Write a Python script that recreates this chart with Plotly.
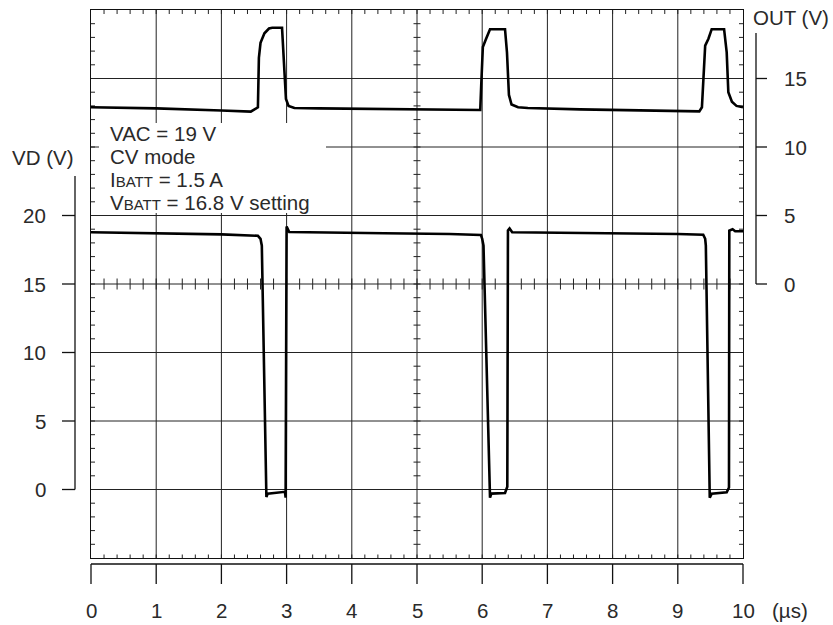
import plotly.graph_objects as go

# ---- waveform samples: time in microseconds, values in volts ----
t_out = [0.0, 1.0, 2.0, 2.45, 2.56, 2.575, 2.60, 2.66, 2.73, 2.78, 2.93,
         2.96, 2.99, 3.03, 3.12, 3.5, 4.5, 5.5, 5.97,
         5.985, 6.01, 6.06, 6.12, 6.35, 6.38, 6.41, 6.45, 6.55, 6.7, 7.5, 8.5, 9.33,
         9.37, 9.39, 9.42, 9.47, 9.52, 9.71, 9.75, 9.775, 9.83, 9.90, 10.0]
out_v = [12.9, 12.82, 12.66, 12.58, 12.9, 16.5, 17.6, 18.3, 18.65, 18.7, 18.7,
         16.0, 13.5, 13.0, 12.85, 12.82, 12.78, 12.72, 12.7,
         14.5, 17.3, 17.9, 18.6, 18.6, 16.9, 13.8, 13.1, 12.9, 12.85, 12.75, 12.68, 12.6,
         12.9, 15.0, 17.4, 17.9, 18.6, 18.6, 16.9, 14.0, 13.3, 13.0, 12.9]

t_vd = [0.0, 1.0, 2.0, 2.56, 2.60, 2.62, 2.69, 2.71, 2.975, 2.985, 2.995, 3.0, 3.04,
        3.5, 4.5, 5.5, 5.98, 6.0, 6.02, 6.12, 6.14, 6.35, 6.385, 6.395, 6.42, 6.46,
        7.0, 8.0, 9.0, 9.39, 9.42, 9.43, 9.49, 9.52, 9.75, 9.785, 9.79, 9.84, 9.88, 10.0]
vd_v = [18.78, 18.72, 18.62, 18.52, 18.3, 17.8, -0.55, -0.3, -0.17, -0.6, 18.5, 19.2, 18.8,
        18.76, 18.7, 18.65, 18.58, 18.3, 17.8, -0.6, -0.3, -0.25, 0.2, 18.9, 19.05, 18.78,
        18.76, 18.7, 18.65, 18.6, 18.3, 17.8, -0.6, -0.3, -0.2, 0.15, 18.9, 19.0, 18.85, 18.85]

# ---- axis ticks and labels ----
x_ticks = list(range(0, 11))
vd_ticks = [0, 5, 10, 15, 20]
out_ticks = [0, 5, 10, 15]
x_range = [0, 10]
vd_range = [-5, 35]
out_range = [-20, 20]

# ---- page geometry (pixels) ----
W, H = 833, 625
ML, MR, MT, MB = 91, 90, 10, 67
PW, PH = W - ML - MR, H - MT - MB

FONT = "Liberation Sans, Arial, Helvetica, sans-serif"
FS = 20.5
INK = "#111111"
TXT = "#2a2a2a"


def px_x(p):
    return (p - ML) / PW


def px_y(p):
    return (H - MB - p) / PH


def vd_paper(v):
    return (v - vd_range[0]) / (vd_range[1] - vd_range[0])


def out_paper(u):
    return (u - out_range[0]) / (out_range[1] - out_range[0])


# pixel -> data unit conversions for tick lengths
DX = (x_range[1] - x_range[0]) / PW
DY = (vd_range[1] - vd_range[0]) / PH

gx, gy = [], []


def seg(x0, y0, x1, y1):
    gx.extend([x0, x1, None])
    gy.extend([y0, y1, None])


# major grid
for t in range(1, 10):
    seg(t, vd_range[0], t, vd_range[1])
for v in range(0, 35, 5):
    seg(x_range[0], v, x_range[1], v)

# minor ticks on frame and centre cross
for k in range(1, 50):
    t = k * 0.2
    seg(t, vd_range[1], t, vd_range[1] - 4 * DY)
    seg(t, vd_range[0], t, vd_range[0] + 3.5 * DY)
    seg(t, 15 - 5.5 * DY, t, 15 + 5.5 * DY)
for v in range(vd_range[0] + 1, vd_range[1]):
    seg(x_range[0], v, x_range[0] + 4 * DX, v)
    seg(x_range[1], v, x_range[1] - 4 * DX, v)
    seg(5 - 3.5 * DX, v, 5 + 3.5 * DX, v)

fig = go.Figure()
fig.add_trace(go.Scatter(x=gx, y=gy, mode="lines", line=dict(color="#222222", width=1),
                         hoverinfo="skip", showlegend=False))
fig.add_trace(go.Scatter(x=t_vd, y=vd_v, mode="lines", line=dict(color="black", width=2.6),
                         showlegend=False, name="VD"))
fig.add_trace(go.Scatter(x=t_out, y=out_v, mode="lines", yaxis="y2",
                         line=dict(color="black", width=2.6), showlegend=False, name="OUT"))

shapes = []
annotations = []


def pline(x0, y0, x1, y1, w=1.3):
    shapes.append(dict(type="line", xref="paper", yref="paper", x0=x0, y0=y0, x1=x1, y1=y1,
                       line=dict(color=INK, width=w)))


def label(text, x, y, xanchor="center"):
    annotations.append(dict(text=text, x=x, y=y, xref="paper", yref="paper",
                            xanchor=xanchor, yanchor="middle", showarrow=False,
                            font=dict(family=FONT, size=FS, color=TXT)))


# white box behind the operating-condition notes
shapes.append(dict(type="rect", xref="paper", yref="paper", layer="above",
                   x0=px_x(99), x1=px_x(326), y0=px_y(213), y1=px_y(123),
                   fillcolor="white", line=dict(width=0)))

# bottom time axis
yb = px_y(564)
pline(0, yb, 1, yb)
for t in x_ticks:
    xp = (t - x_range[0]) / (x_range[1] - x_range[0])
    pline(xp, yb, xp, px_y(584))
    label(str(t), xp, px_y(610))
label("(µs)", px_x(790), px_y(610))

# left VD axis
xl = px_x(75)
pline(xl, px_y(176), xl, vd_paper(vd_ticks[0]))
for v in vd_ticks:
    pline(px_x(62), vd_paper(v), xl, vd_paper(v))
    label(str(v), px_x(48), vd_paper(v), "right")
label("VD (V)", px_x(76), px_y(157), "right")

# right OUT axis
xr = px_x(756)
pline(xr, px_y(33), xr, out_paper(out_ticks[0]))
for u in out_ticks:
    pline(xr, out_paper(u), px_x(767), out_paper(u))
    label(str(u), px_x(782), out_paper(u), "left")
label("OUT (V)", px_x(791), px_y(18))

# operating conditions
small = '<span style="font-size:15px">BATT</span>'
notes = ["VAC = 19 V", "CV mode", "I" + small + " = 1.5 A", "V" + small + " = 16.8 V setting"]
for i, line in enumerate(notes):
    label(line, px_x(108), px_y(134 + i * 22.7), "left")

fig.update_layout(
    width=W, height=H,
    margin=dict(l=ML, r=MR, t=MT, b=MB, pad=0),
    paper_bgcolor="white", plot_bgcolor="white",
    xaxis=dict(range=x_range, showgrid=False, zeroline=False, showticklabels=False,
               ticks="", showline=True, mirror=True, linecolor=INK, linewidth=1.4),
    yaxis=dict(range=vd_range, showgrid=False, zeroline=False, showticklabels=False,
               ticks="", showline=True, mirror=True, linecolor=INK, linewidth=1.4),
    yaxis2=dict(range=out_range, overlaying="y", visible=False),
    shapes=shapes, annotations=annotations,
    showlegend=False,
)

fig.write_html("out.html")
